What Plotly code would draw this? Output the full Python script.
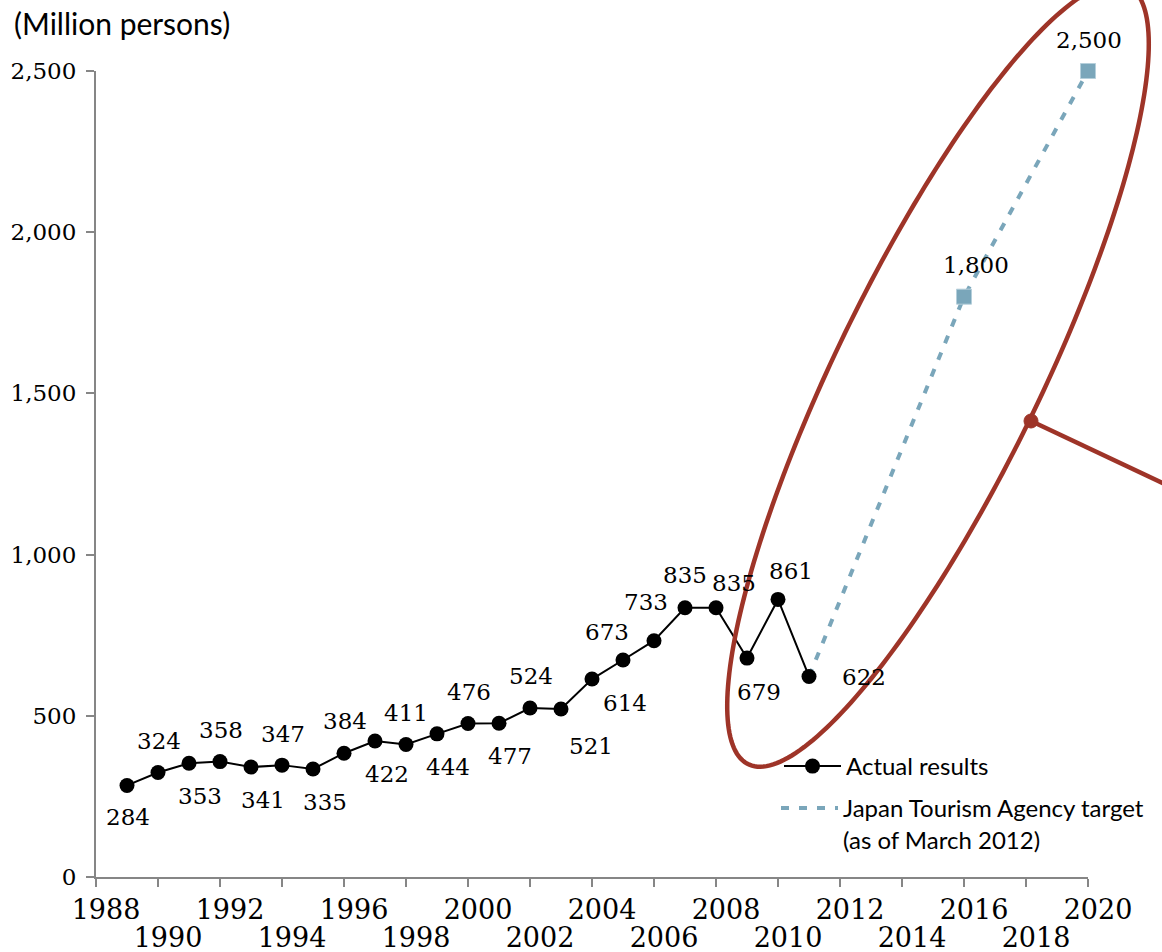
import numpy as np
import plotly.graph_objects as go

# ---------------- data ----------------
actual_years = list(range(1989, 2012))
actual_values = [284, 324, 353, 358, 341, 347, 335, 384, 422, 411, 444, 476,
                 477, 524, 521, 614, 673, 733, 835, 835, 679, 861, 622]
target_years = [2011, 2016, 2020]
target_values = [622, 1800, 2500]
target_labelled = [False, True, True]

y_tick_values = [0, 500, 1000, 1500, 2000, 2500]
x_tick_values = list(range(1988, 2021, 2))
x_labels_row1 = list(range(1988, 2021, 4))
x_labels_row2 = list(range(1990, 2021, 4))

series_names = ["Actual results", "Japan Tourism Agency target<br>(as of March 2012)"]
unit_label = "(Million persons)"

# ---------------- style (label offsets in px: dx, dy-down) ----------------
actual_label_offsets = [(1, 34), (1, -30), (11, 35), (1, -30), (12, 35), (1, -29),
                        (12, 35), (1, -30), (12, 35), (0, -29), (11, 35), (1, -30),
                        (11, 35), (1, -30), (30, 39), (33, 26), (-16, -26), (-8, -37),
                        (0, -31), (18, -23), (12, 36), (13, -26), (55, 3)]
target_label_offsets = [(0, 0), (12, -30), (1, -29)]

SERIF = "DejaVu Serif"
SANS = "Lato"
AXIS_GRAY = "#868686"
TARGET_BLUE = "#7AA6BA"
RED = "#9E3428"

W, H = 1162, 952
L, R, T, B = 96, 74, 71, 75
PW, PH = W - L - R, H - T - B

fig = go.Figure()

# target line (drawn first so the black markers sit on top)
fig.add_trace(go.Scatter(
    x=target_years, y=target_values, mode="lines", name=series_names[1],
    line=dict(color=TARGET_BLUE, width=4, dash="8px,10px"),
    legend="legend2", cliponaxis=False, hoverinfo="skip",
))
fig.add_trace(go.Scatter(
    x=[yr for yr, f in zip(target_years, target_labelled) if f],
    y=[v for v, f in zip(target_values, target_labelled) if f],
    mode="markers", showlegend=False,
    marker=dict(color=TARGET_BLUE, size=15, symbol="square",
                line=dict(color="#B5CFDB", width=1)),
    cliponaxis=False,
))
fig.add_trace(go.Scatter(
    x=actual_years, y=actual_values, mode="lines+markers", name=series_names[0],
    line=dict(color="black", width=2),
    marker=dict(color="black", size=15, symbol="circle"),
    legend="legend", cliponaxis=False,
))
# second-row tick labels (invisible trace to activate x2)
fig.add_trace(go.Scatter(x=[x_tick_values[0]], y=[0], xaxis="x2", mode="markers",
                         marker=dict(opacity=0), showlegend=False, hoverinfo="skip"))

annotations = []
for yr, v, (dx, dy) in zip(actual_years, actual_values, actual_label_offsets):
    annotations.append(dict(x=yr, y=v, text=f"{v:,}", showarrow=False,
                            xanchor="center", yanchor="middle",
                            xshift=dx, yshift=-dy + 2,
                            font=dict(family=SERIF, size=23, color="black")))
for yr, v, f, (dx, dy) in zip(target_years, target_values, target_labelled, target_label_offsets):
    if f:
        annotations.append(dict(x=yr, y=v, text=f"{v:,}", showarrow=False,
                                xanchor="center", yanchor="middle",
                                xshift=dx, yshift=-dy + 2,
                                font=dict(family=SERIF, size=23, color="black")))

def px2paper(px, py):
    return (px - L) / PW, (H - B - py) / PH

annotations.append(dict(xref="paper", yref="paper", x=px2paper(12, 0)[0], y=px2paper(0, 23)[1],
                        text=unit_label, showarrow=False, xanchor="left", yanchor="middle",
                        font=dict(family=SANS, size=30, color="black")))

# decorative ellipse highlighting the target period
cx, cy, a, b, ang = 938, 375, 433, 102, np.deg2rad(64)
ux, uy = np.cos(ang), -np.sin(ang)
vx, vy = np.sin(ang), np.cos(ang)
tt = np.linspace(0, 2 * np.pi, 240)
ex = cx + a * np.cos(tt) * ux + b * np.sin(tt) * vx
ey = cy + a * np.cos(tt) * uy + b * np.sin(tt) * vy
pts = [px2paper(x, y) for x, y in zip(ex, ey)]
path = "M " + " L ".join(f"{p[0]:.5f},{p[1]:.5f}" for p in pts) + " Z"

dot_x, dot_y = px2paper(1031, 421)
end_x, end_y = px2paper(1175, 489)
r = 7
c0 = px2paper(1031 - r, 421 + r)
c1 = px2paper(1031 + r, 421 - r)
shapes = [
    dict(type="path", xref="paper", yref="paper", path=path,
         line=dict(color=RED, width=4.5), layer="above"),
    dict(type="line", xref="paper", yref="paper", x0=dot_x, y0=dot_y, x1=end_x, y1=end_y,
         line=dict(color=RED, width=4.5), layer="above"),
    dict(type="circle", xref="paper", yref="paper", x0=c0[0], y0=c0[1], x1=c1[0], y1=c1[1],
         fillcolor=RED, line=dict(color=RED, width=1), layer="above"),
]

l1x, l1y = px2paper(779, 744)
l2x, l2y = px2paper(776, 786)
legend_common = dict(xanchor="left", yanchor="top",
                     font=dict(family=SANS, size=24, color="black"),
                     bgcolor="rgba(0,0,0,0)", itemwidth=57, valign="top")

fig.update_layout(
    width=W, height=H, autosize=False,
    margin=dict(l=L, r=R, t=T, b=B),
    paper_bgcolor="white", plot_bgcolor="white",
    showlegend=True,
    legend=dict(x=l1x, y=l1y, **legend_common),
    legend2=dict(x=l2x, y=l2y, **legend_common),
    xaxis=dict(range=[1988, 2020], tickvals=x_tick_values, automargin=False,
               ticktext=[str(v) if v in x_labels_row1 else "" for v in x_tick_values],
               ticks="outside", ticklen=8, tickwidth=2, tickcolor=AXIS_GRAY,
               showline=True, linecolor=AXIS_GRAY, linewidth=2,
               showgrid=False, zeroline=False,
               tickfont=dict(family=SERIF, size=27, color="black"),
               ticklabelshift=10, ticklabelstandoff=0),
    xaxis2=dict(range=[1988, 2020], overlaying="x", anchor="y", side="bottom",
                automargin=False,
                tickvals=x_labels_row2, ticktext=[str(v) for v in x_labels_row2],
                ticks="", showline=False, showgrid=False, zeroline=False,
                tickfont=dict(family=SERIF, size=27, color="black"),
                ticklabelshift=10, ticklabelstandoff=42),
    yaxis=dict(range=[0, 2500], tickvals=y_tick_values, tickformat=",", automargin=False,
               ticks="outside", ticklen=8, tickwidth=2, tickcolor=AXIS_GRAY,
               showline=True, linecolor=AXIS_GRAY, linewidth=2,
               showgrid=False, zeroline=False,
               tickfont=dict(family=SERIF, size=23, color="black"),
               ticklabelstandoff=5),
    annotations=annotations,
    shapes=shapes,
)

fig.write_html("out.html")
